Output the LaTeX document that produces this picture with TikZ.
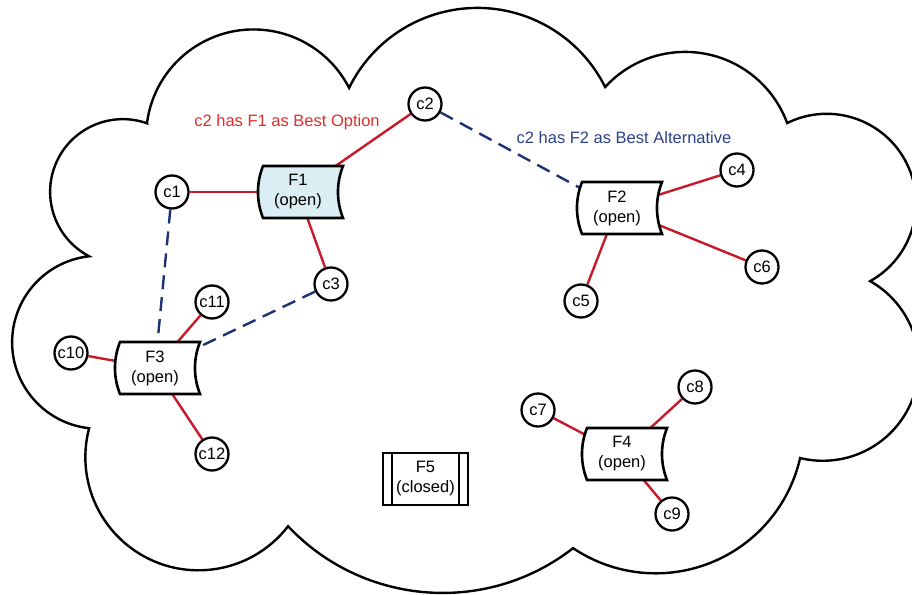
\documentclass[tikz,border=0pt]{standalone}
\usepackage{fontspec}
\setmainfont{Liberation Sans}
\usetikzlibrary{calc}
\pgfdeclarelayer{background}
\pgfdeclarelayer{shapes}
\pgfsetlayers{background,shapes,main}
\definecolor{redline}{RGB}{200,25,40}
\definecolor{redtext}{RGB}{225,45,45}
\definecolor{navyline}{RGB}{30,50,115}
\definecolor{navytext}{RGB}{45,65,135}
\definecolor{fillblue}{RGB}{218,238,243}
\begin{document}
\begin{tikzpicture}[x=1pt,y=-1pt,
  every node/.style={font=\fontsize{16.5}{20}\selectfont},
  cnode/.style={circle, draw, line width=2.3pt, fill=white, minimum size=33pt, inner sep=0pt},
  fnode/.style={rectangle, minimum width=80pt, minimum height=52pt, inner sep=0pt, align=center},
  closedbox/.style={rectangle, draw, line width=2.5pt, fill=white, minimum width=85pt, minimum height=52pt, inner sep=0pt, align=center},
  redlink/.style={draw=redline, line width=2.4pt},
  bluelink/.style={draw=navyline, line width=2.4pt, dash pattern=on 14pt off 8pt},
  cloudline/.style={draw=black, line width=2.4pt},
  shapeline/.style={draw=black, line width=2.6pt, line join=miter}
]
\useasboundingbox (0,0) rectangle (912,594);

% client circles
\node[cnode] (c1)  at (172,192) {c1};
\node[cnode] (c2)  at (425,104) {c2};
\node[cnode] (c3)  at (331,284) {c3};
\node[cnode] (c4)  at (737,170) {c4};
\node[cnode] (c5)  at (581,301) {c5};
\node[cnode] (c6)  at (762,267) {c6};
\node[cnode] (c7)  at (538,410) {c7};
\node[cnode] (c8)  at (695,387) {c8};
\node[cnode] (c9)  at (672,514) {c9};
\node[cnode] (c10) at (71,353)  {c10};
\node[cnode] (c11) at (212,302) {c11};
\node[cnode] (c12) at (212,454) {c12};

% facilities
\node[fnode] (F1) at (298,192) {F1\\(open)};
\node[fnode] (F2) at (617,208) {F2\\(open)};
\node[fnode] (F3) at (155,368) {F3\\(open)};
\node[fnode] (F4) at (622,454) {F4\\(open)};
\node[closedbox] (F5) at (425.5,479) {F5\\(closed)};
\draw[line width=2.3pt] ([xshift=10pt]F5.north west) -- ([xshift=10pt]F5.south west);
\draw[line width=2.3pt] ([xshift=-10pt]F5.north east) -- ([xshift=-10pt]F5.south east);

% labels
\node[text=redtext] (lab1) at (287,122) {c2 has F1 as Best Option};
\node[text=navytext] (lab2) at (624,138) {c2 has F2 as Best Alternative};

\begin{pgfonlayer}{shapes}
\foreach \n/\f in {F1/fillblue, F2/white, F3/white, F4/white}{
  \draw[shapeline, fill=\f]
    ($(\n.center)+(-35,-26)$) -- ($(\n.center)+(45,-26)$)
    .. controls ($(\n.center)+(38.3,-9)$) and ($(\n.center)+(38.3,9)$) .. ($(\n.center)+(45,26)$)
    -- ($(\n.center)+(-35,26)$)
    .. controls ($(\n.center)+(-41.7,9)$) and ($(\n.center)+(-41.7,-9)$) .. cycle;
}
\end{pgfonlayer}

\begin{pgfonlayer}{background}
% cloud
\draw[cloudline] (147,123)
  arc[start angle=187.4, end angle=332.9, radius=107.4]
  arc[start angle=206.1, end angle=333.5, radius=142.8]
  arc[start angle=222.6, end angle=339.8, radius=108.7]
  arc[start angle=243.7, end angle=420.9, radius=89.3]
  arc[start angle=-60.5, end angle=103.7, radius=96.05]
  arc[start angle=12.8, end angle=123.9, radius=148.1]
  arc[start angle=52.1, end angle=136.7, radius=212.4]
  arc[start angle=37.6, end angle=194.85, radius=113.1]
  arc[start angle=96.3, end angle=263.7, radius=86.5]
  arc[start angle=117.6, end angle=289.5, radius=72.7]
  -- cycle;
% best options
\draw[redlink] (c1) -- (F1.center);
\draw[redlink] (c2) -- (F1.center);
\draw[redlink] (c3) -- (F1.center);
\draw[redlink] (c4) -- (F2.center);
\draw[redlink] (c5) -- (F2.center);
\draw[redlink] (c6) -- (F2.center);
\draw[redlink] (c10) -- (F3.center);
\draw[redlink] (c11) -- (F3.center);
\draw[redlink] (c12) -- (F3.center);
\draw[redlink] (c7) -- (F4.center);
\draw[redlink] (c8) -- (F4.center);
\draw[redlink] (c9) -- (F4.center);
% best alternatives
\draw[bluelink] (c2) -- (F2.center);
\draw[bluelink] (c1) -- (F3.center);
\draw[bluelink] (c3) -- (F3.center);
\end{pgfonlayer}
\end{tikzpicture}
\end{document}
